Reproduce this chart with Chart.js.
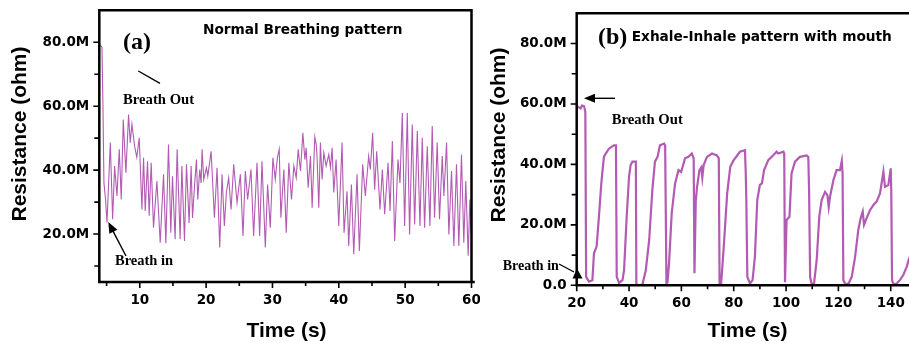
<!DOCTYPE html>
<html><head><meta charset="utf-8">
<script src="https://cdn.jsdelivr.net/npm/chart.js@4/dist/chart.umd.min.js"></script>
<style>
html,body{margin:0;padding:0;background:#fff;overflow:hidden;width:909px;height:344px;}
#ca{position:absolute;left:0;top:0;}
#cb{position:absolute;left:480px;top:0;}
</style></head><body>
<canvas id="ca" width="480" height="344"></canvas>
<canvas id="cb" width="440" height="344"></canvas>
<script>
// ---- Panel (a): Normal breathing pattern (time in s, resistance in M ohm)
const timeA = [3.9,4.1,4.3,4.45,4.6,4.84,5.06,5.56,5.91,6.21,6.56,6.91,7.21,7.51,7.91,8.31,8.56,8.82,9.22,9.55,9.92,
10.32,10.57,10.82,11.17,11.42,11.72,12.07,12.58,13.08,13.58,13.93,14.33,14.68,14.93,15.33,15.63,16.08,16.34,16.74,17.04,17.44,17.74,
17.95,18.25,18.54,18.74,19.04,19.24,19.39,19.64,20.05,20.25,20.75,21.25,21.65,22.05,22.4,22.75,23.05,23.4,23.76,24.16,24.66,25.16,25.56,25.91,26.26,26.76,27.16,27.67,28.07,28.42,28.92,29.27,29.67,30.07,30.42,30.75,31.02,31.27,
31.72,32.07,32.47,32.87,33.22,33.58,33.88,34.23,34.58,34.88,35.08,35.38,35.73,35.98,36.38,36.6,36.73,36.98,37.23,37.48,37.74,38.09,38.49,38.74,38.99,39.24,39.59,39.99,40.49,40.79,41.24,41.49,41.9,42.25,42.75,43.1,43.6,44.0,44.5,44.75,45.1,45.4,
45.71,46.21,46.56,46.91,47.42,47.72,48.07,48.42,48.92,49.22,49.57,49.92,50.32,50.67,51.07,51.43,51.83,52.23,52.58,52.93,53.33,53.73,54.08,54.43,54.83,55.18,55.59,55.84,56.24,56.59,56.99,57.34,57.74,58.09,58.49,58.84,59.14,59.5,59.75,59.95];
const resA = [79.2,79,78.4,60,36,30.8,23.6,48.6,24.6,41.3,31.9,46.5,30.8,55.8,39.2,57.4,48.6,54.3,47.5,44,50.1,
27.7,43.9,27.2,42.8,25.7,42.3,22,36.6,17.3,38.7,17.1,48,20.4,38.1,18.4,46.5,18.4,41.3,17.8,41.8,23.5,41.3,
25,35,43.3,30.8,40.2,36,46.5,37.1,40.7,38.1,45.9,25.1,40.7,15.8,38.7,22.5,33,37.6,27.7,41.8,29.8,38.7,19.4,39.7,30.8,40.2,19.4,42.3,19.4,42.8,15.8,35.5,22,43.9,37.1,44,46.5,25.1,
40.2,20.4,42.3,30.8,41.3,37.6,46.5,39.7,51.7,43.3,47,34.5,44.4,28.2,50.4,48,43.9,28.2,48.6,37.1,45.4,41.3,44.9,40.7,47,33,43.3,22.5,48.6,20.4,33.4,16.3,35.5,13.7,38.7,14.7,41.8,31.9,44.4,40.2,51.7,33.9,
45.9,27.7,40.2,26.2,42.3,27.2,49.1,17.8,43.3,36,57.9,22.5,57.9,19.9,54.3,23,52.2,22.5,50.1,22,47.5,22.5,53.8,25.1,48.6,24.6,44.4,31.9,48.6,19.9,39.7,16.3,41.8,16.3,44.9,17.3,36.6,13.2,30.8,20];

// ---- Panel (b): Exhale-Inhale pattern with mouth
const timeB = [20,21.5,22,22.8,23.3,23.6,24.7,26.0,26.6,27.6,28.5,29.4,30.4,31.1,32.3,34.2,35.0,35.3,36.2,37.5,38.1,39.1,40.0,40.6,41.3,42.6,42.8,43.8,45.1,46.4,47.7,48.9,49.9,50.9,51.8,53.4,53.8,54.3,54.7,55.3,56.3,57.6,58.9,59.9,61.4,62.7,64.0,64.7,65.0,65.5,66.0,66.9,67.6,68.0,68.5,69.8,71.7,73.6,74.3,74.6,75.2,76.2,77.5,78.7,80.0,81.9,82.4,84.3,84.6,84.8,85.2,86.2,87.2,88.1,89.0,90.0,90.8,91.6,93.2,95.1,96.4,97.0,99.0,99.3,99.6,100.2,101.3,102.1,103.4,105.3,107.9,108.5,108.8,109.2,109.8,110.7,111.7,112.7,113.6,114.9,115.8,116.3,116.8,118.1,119.3,120.6,121.3,121.6,121.9,122.7,123.9,125.1,126.4,127.6,128.5,129.3,129.8,130.8,132.1,133.4,134.6,135.9,136.5,137.2,137.8,139.1,140.0,140.2,140.5,141.0,142.3,143.5,144.8,146.1,147.0,148.0];
const resB = [59.3,58.5,59.5,59.3,57.4,2.8,1.2,1.7,10.6,12.8,22.7,33.7,42.5,43.6,45.2,46.3,46.3,2.8,0.8,1.7,5,22.7,35.9,39.8,40.9,40.9,0.3,0,0.2,5,15,31.5,40.9,42.5,46.3,46.9,46.3,0.6,1,7.4,23.8,33.7,38.1,37.5,42,42.5,43.6,42,4,28,32.6,38.1,39,35.7,39.8,42.5,43.6,43,42,0.2,0.6,12.8,30.4,39.3,41.4,43.6,44.2,44.7,37,29.3,2.8,0.6,1.7,9.5,28.2,33.2,33.7,38.1,41.4,43,44.2,43.6,44.2,43.6,1,21.6,22.7,37,40.9,42.5,43,42.5,31.5,2.8,0.3,0.6,8.3,22.7,28.2,30.9,29.8,25.9,29.3,34.8,38.1,38.1,41.2,37,1.7,0.3,0.6,2.8,9.5,18.3,22.2,24.4,20,22.2,24.9,26.6,27.7,30.4,33.7,37.6,32.6,33.2,38.7,31.5,1.7,0.3,0.6,1.7,3.4,6.1,8.8,11];

// ---- tick values
const xMajorA = [10,20,30,40,50,60];
const xMinorA = [5,15,25,35,45,55];
const yMajorA = [20,40,60,80];
const yMinorA = [10,30,50,70];
const xMajorB = [20,40,60,80,100,120,140];
const xMinorB = [30,50,70,90,110,130,150];
const yMajorB = [0,20,40,60,80];
const yMinorB = [10,30,50,70];

const LINE = '#b35ab3';
const TICKFONT = {family:'"DejaVu Sans"', size:13.5, weight:'bold'};

function yLabel(v){ return v === 0 ? '0.0' : v.toFixed(1) + 'M'; }

function arrow(ctx, x1, y1, x2, y2, head, hw){
  const a = Math.atan2(y2-y1, x2-x1);
  ctx.beginPath(); ctx.moveTo(x1,y1);
  ctx.lineTo(x2 - Math.cos(a)*head*0.8, y2 - Math.sin(a)*head*0.8); ctx.stroke();
  ctx.beginPath(); ctx.moveTo(x2,y2);
  ctx.lineTo(x2 - Math.cos(a)*head + Math.sin(a)*hw, y2 - Math.sin(a)*head - Math.cos(a)*hw);
  ctx.lineTo(x2 - Math.cos(a)*head - Math.sin(a)*hw, y2 - Math.sin(a)*head + Math.cos(a)*hw);
  ctx.closePath(); ctx.fill();
}

const deco = {
  id:'deco',
  afterDraw(chart, args, o){
    const ctx = chart.ctx, a = chart.chartArea;
    const xs = chart.scales.x, ys = chart.scales.y;
    ctx.save();
    ctx.strokeStyle = '#000'; ctx.fillStyle = '#000';
    ctx.lineWidth = 2.5; ctx.lineCap = 'square';
    ctx.beginPath();
    ctx.moveTo(a.left, a.top); ctx.lineTo(a.left, a.bottom); ctx.lineTo(a.right + 2, a.bottom);
    ctx.moveTo(a.left, a.top); ctx.lineTo(a.right, a.top);
    if (o.rightBorder) { ctx.lineTo(a.right, a.bottom); }
    ctx.stroke();
    ctx.lineWidth = 1.6; ctx.lineCap = 'butt';
    ctx.beginPath();
    o.xMajor.forEach(v => { const p = xs.getPixelForValue(v); ctx.moveTo(p, a.bottom); ctx.lineTo(p, a.bottom + 6); });
    o.xMinor.forEach(v => { const p = xs.getPixelForValue(v); ctx.moveTo(p, a.bottom); ctx.lineTo(p, a.bottom + 4); });
    o.yMajor.forEach(v => { const p = ys.getPixelForValue(v); ctx.moveTo(a.left, p); ctx.lineTo(a.left - 6, p); });
    o.yMinor.forEach(v => { const p = ys.getPixelForValue(v); ctx.moveTo(a.left, p); ctx.lineTo(a.left - 5, p); });
    ctx.stroke();
    // axis titles
    ctx.font = 'bold 21px "Liberation Sans"';
    ctx.textAlign = 'center'; ctx.textBaseline = 'middle';
    ctx.fillText(o.xTitle[0], o.xTitle[1], o.xTitle[2]);
    ctx.save(); ctx.translate(o.yTitle[1], o.yTitle[2]); ctx.rotate(-Math.PI/2);
    ctx.fillText(o.yTitle[0], 0, 0); ctx.restore();
    // annotations
    ctx.textAlign = 'left';
    o.texts.forEach(t => { ctx.font = t[3]; ctx.fillText(t[0], t[1], t[2]); });
    ctx.lineWidth = 1.4;
    (o.lines||[]).forEach(l => { ctx.beginPath(); ctx.moveTo(l[0], l[1]); ctx.lineTo(l[2], l[3]); ctx.stroke(); });
    (o.arrows||[]).forEach(l => arrow(ctx, l[0], l[1], l[2], l[3], 11, 4.5));
    (o.tris||[]).forEach(t => { ctx.beginPath(); ctx.moveTo(t[0],t[1]); ctx.lineTo(t[2],t[3]); ctx.lineTo(t[4],t[5]); ctx.closePath(); ctx.fill(); });
    ctx.restore();
  }
};

function makeChart(id, t, r, cfg){
  return new Chart(document.getElementById(id), {
    type:'line',
    data:{ datasets:[{ data: t.map((x,i)=>({x:x, y:r[i]})), borderColor: LINE, borderWidth: cfg.lw,
      pointRadius:0, tension:0, fill:false }] },
    options:{
      responsive:false, animation:false, devicePixelRatio:1, parsing:true,
      layout:{ padding:{ left:0, top:cfg.top, right:cfg.right, bottom:0 } },
      plugins:{ legend:{display:false}, tooltip:{enabled:false}, deco: cfg.deco },
      scales:{
        x:{ type:'linear', min:cfg.xmin, max:cfg.xmax,
          grid:{display:false, drawTicks:false}, border:{display:false},
          ticks:{ font:TICKFONT, color:'#000', padding:cfg.xpad, maxRotation:0, autoSkip:false,
            callback:(v)=> cfg.deco.xMajor.includes(v) ? String(v) : '' },
          afterBuildTicks:(s)=>{ s.ticks = cfg.deco.xMajor.concat(cfg.deco.xMinor).sort((p,q)=>p-q).map(v=>({value:v})); },
          afterFit:(s)=>{ s.height = cfg.xh; s.paddingLeft = 0; s.paddingRight = 0; } },
        y:{ type:'linear', min:cfg.ymin, max:cfg.ymax,
          grid:{display:false, drawTicks:false}, border:{display:false},
          ticks:{ font:TICKFONT, color:'#000', padding:10, autoSkip:false,
            callback:(v)=> cfg.deco.yMajor.includes(v) ? yLabel(v) : '' },
          afterBuildTicks:(s)=>{ s.ticks = cfg.deco.yMajor.concat(cfg.deco.yMinor).sort((p,q)=>p-q).map(v=>({value:v})); },
          afterFit:(s)=>{ s.width = cfg.yw; s.paddingTop = 0; s.paddingBottom = 0; } }
      }
    },
    plugins:[deco]
  });
}

makeChart('ca', timeA, resA, {
  lw:1.1, top:10.3, right:8.5, xh:62, yw:99.3, xpad:10, xmin:3.9, xmax:60, ymin:5, ymax:90,
  deco:{ rightBorder:true, xMajor:xMajorA, xMinor:xMinorA, yMajor:yMajorA, yMinor:yMinorA,
    xTitle:['Time (s)', 286.5, 331], yTitle:['Resistance (ohm)', 20, 134],
    texts:[
      ['(a)', 123, 43, 'bold 24px "Liberation Serif"'],
      ['Normal Breathing pattern', 203, 30, 'bold 13.7px "DejaVu Sans"'],
      ['Breath Out', 123, 100, 'bold 14.7px "Liberation Serif"'],
      ['Breath in', 115, 261, 'bold 14.5px "Liberation Serif"']
    ],
    lines:[[138.3, 71, 160, 83.3]],
    arrows:[[126, 256, 108.3, 222]]
  }
});

makeChart('cb', timeB, resB, {
  lw:2.2, top:13.3, right:3.1, xh:58.7, yw:96.7, xpad:10, xmin:20, xmax:150, ymin:0, ymax:90,
  deco:{ rightBorder:false, xMajor:xMajorB, xMinor:xMinorB, yMajor:yMajorB, yMinor:yMinorB,
    xTitle:['Time (s)', 267.5, 331], yTitle:['Resistance (ohm)', 19, 135],
    texts:[
      ['(b)', 118, 38, 'bold 24px "Liberation Serif"'],
      ['Exhale-Inhale pattern with mouth', 151.7, 37.7, 'bold 13.7px "DejaVu Sans"'],
      ['Breath Out', 131.7, 120, 'bold 14.7px "Liberation Serif"'],
      ['Breath in', 22.7, 266.5, 'bold 14px "Liberation Serif"']
    ],
    lines:[[79, 264, 94, 272]],
    arrows:[[135, 98.3, 104, 98.3]],
    tris:[[97, 268.5, 92.5, 278.5, 102.5, 278.5]]
  }
});
</script>
</body></html>
